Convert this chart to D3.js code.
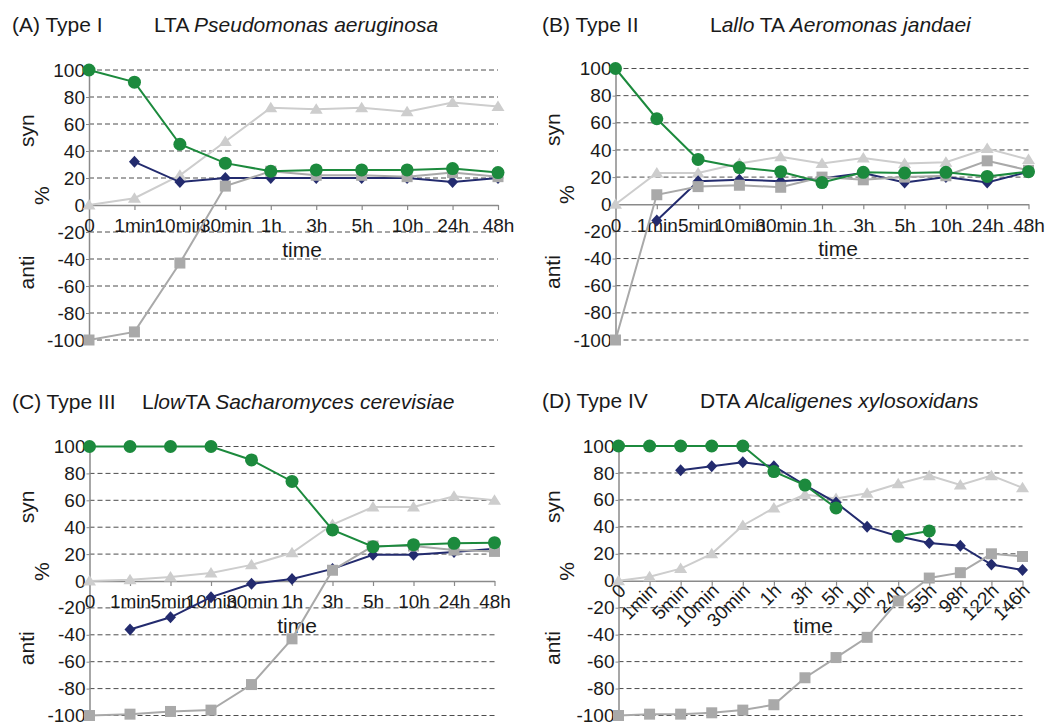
<!DOCTYPE html>
<html>
<head>
<meta charset="utf-8">
<script src="https://cdn.jsdelivr.net/npm/d3@7/dist/d3.min.js"></script>
<style>
  body { margin: 0; background: #fff; }
  text { font-family: "Liberation Sans", Arial, sans-serif; fill: #1a1a1a; }
</style>
</head>
<body>
<svg id="chart" width="1049" height="722"></svg>
<script>
// time points (category labels)
var timesA = ["0", "1min", "10min", "30min", "1h", "3h", "5h", "10h", "24h", "48h"];
var timesBC = ["0", "1min", "5min", "10min", "30min", "1h", "3h", "5h", "10h", "24h", "48h"];
var timesD = ["0", "1min", "5min", "10min", "30min", "1h", "3h", "5h", "10h", "24h", "55h", "98h", "122h", "146h"];
var yTicks = [-100, -80, -60, -40, -20, 0, 20, 40, 60, 80, 100];

// (A) Type I
var greenA = [100, 91, 45, 31, 25, 26, 26, 26, 27, 24];
var navyA = [null, 32, 17, 20, 20, 20, 20, 20, 17, 20];
var triA = [0, 5, 22, 47, 72, 71, 72, 69, 76, 73];
var sqA = [-100, -94, -43, 14, 25, 22, 22, 21, 24, 21];

// (B) Type II
var greenB = [100, 63, 33, 27, 24, 16, 23.5, 23, 23.5, 20.5, 24];
var navyB = [null, -12, 17, 18, 17, 19, 23, 16, 20, 16, 24];
var triB = [0, 23, 23, 30, 35, 30, 34, 30, 31, 41, 33];
var sqB = [-100, 7, 13, 14, 12.5, 20, 18, 20, 21, 32, 25];

// (C) Type III
var greenC = [100, 100, 100, 100, 90, 74, 38, 25.5, 27, 28, 28.5];
var navyC = [null, -36, -27, -12, -2, 1.5, 9, 19.5, 19.5, 21.5, 24];
var triC = [0, 1, 3, 6, 12, 21, 42, 55, 55, 63, 60];
var sqC = [-100, -99, -97, -96, -77, -43, 8, 26, 26, 23, 22];

// (D) Type IV
var greenD = [100, 100, 100, 100, 100, 81, 71, 54, null, 33, 37, null, null, null];
var navyD = [null, null, 82, 85, 88, 85, 71, 58, 40, 33, 28, 26, 12, 8];
var triD = [0, 3, 9, 20, 41, 54, 64, 61, 65, 72, 78, 71, 78, 69];
var sqD = [-100, -99, -99, -98, -96, -92, -72, -57, -42, -15, 2, 6, 20, 18];

var svg = d3.select("#chart");

// series styles, drawn in this order (last on top)
var styles = [
  {key: "tri", color: "#cdcdcd", shape: "M0,-6L6.5,4.5L-6.5,4.5Z"},
  {key: "navy", color: "#232b6e", shape: "M0,-6L5.5,0L0,6L-5.5,0Z"},
  {key: "sq", color: "#a9a9a9", shape: "M-5.5,-5.5H5.5V5.5H-5.5Z"},
  {key: "green", color: "#1c8a3d", shape: "circle"}
];

var panels = [
  {label: "(A) Type I", lx: 12, ly: 32, tx: 154,
   title: [["LTA ", false], ["Pseudomonas aeruginosa", true]],
   times: timesA, x0: 89, x1: 498, yTop: 70, yBot: 340, rotate: false,
   data: {green: greenA, navy: navyA, tri: triA, sq: sqA},
   synX: 27, pctX: 42, timeX: 302},
  {label: "(B) Type II", lx: 542, ly: 32, tx: 710,
   title: [["L", false], ["allo", true], [" TA ", false], ["Aeromonas jandaei", true]],
   times: timesBC, x0: 615.5, x1: 1028.5, yTop: 68.5, yBot: 340, rotate: false,
   data: {green: greenB, navy: navyB, tri: triB, sq: sqB},
   synX: 553, pctX: 567, timeX: 838},
  {label: "(C) Type III", lx: 12, ly: 409, tx: 142,
   title: [["L", false], ["low", true], ["TA ", false], ["Sacharomyces cerevisiae", true]],
   times: timesBC, x0: 89.5, x1: 494.5, yTop: 446.5, yBot: 715.5, rotate: false,
   data: {green: greenC, navy: navyC, tri: triC, sq: sqC},
   synX: 27, pctX: 42, timeX: 297},
  {label: "(D) Type IV", lx: 542, ly: 408, tx: 700,
   title: [["DTA ", false], ["Alcaligenes xylosoxidans", true]],
   times: timesD, x0: 618.5, x1: 1022.5, yTop: 446, yBot: 715.5, rotate: true,
   data: {green: greenD, navy: navyD, tri: triD, sq: sqD},
   synX: 553, pctX: 567, timeX: 813}
];

panels.forEach(function(p) {
  var x = d3.scalePoint().domain(p.times).range([p.x0, p.x1]).padding(0);
  var y = d3.scaleLinear().domain([-100, 100]).range([p.yBot, p.yTop]);
  var g = svg.append("g");

  // titles
  g.append("text").attr("x", p.lx).attr("y", p.ly)
    .style("font-size", "21px").text(p.label);
  var t = g.append("text").attr("x", p.tx).attr("y", p.ly).style("font-size", "21px");
  p.title.forEach(function(s) {
    t.append("tspan").attr("font-style", s[1] ? "italic" : "normal")
      .style("white-space", "pre").text(s[0]);
  });

  // dashed gridlines
  g.append("g").selectAll("line")
    .data(yTicks.filter(function(d) { return d != 0; }))
    .enter().append("line")
      .attr("x1", p.x0).attr("x2", p.x1)
      .attr("y1", function(d) { return y(d); })
      .attr("y2", function(d) { return y(d); })
      .attr("stroke", "#4d4d4d").attr("stroke-width", 1)
      .attr("stroke-dasharray", "5,3");

  // y axis (plain hyphen for negatives, as in the original)
  var yAxis = g.append("g")
    .attr("transform", "translate(" + p.x0 + ",0)")
    .call(d3.axisLeft(y).tickValues(yTicks).tickSize(3).tickPadding(1)
      .tickFormat(function(d) { return String(d); }));
  yAxis.select(".domain").attr("stroke", "#8a8a8a").attr("stroke-width", 1.5);
  yAxis.selectAll(".tick line").attr("stroke", "#8a8a8a");
  yAxis.selectAll("text").style("font-size", "19px").style("fill", "#1a1a1a");

  // x axis through 0
  var xAxis = g.append("g")
    .attr("transform", "translate(0," + y(0) + ")")
    .call(d3.axisBottom(x).tickSizeOuter(0).tickSizeInner(5).tickPadding(10));
  xAxis.select(".domain").attr("stroke", "#8a8a8a").attr("stroke-width", 1.5);
  xAxis.selectAll(".tick line").attr("stroke", "#8a8a8a").attr("stroke-width", 1.2);
  var xt = xAxis.selectAll("text").style("font-size", "19px").style("fill", "#1a1a1a");
  if (p.rotate) {
    xt.attr("text-anchor", "end").attr("y", 0).attr("dy", 0)
      .attr("transform", "translate(8,11) rotate(-45)");
  } else {
    xt.attr("y", 14).attr("dy", "0.71em");
  }

  // axis titles
  g.append("text").attr("x", p.timeX).attr("y", y(0) + 52)
    .attr("text-anchor", "middle").style("font-size", "21px").text("time");
  [["syn", p.synX, y(55)], ["%", p.pctX, y(7)], ["anti", p.synX, y(-50)]].forEach(function(a) {
    g.append("text")
      .attr("transform", "translate(" + a[1] + "," + a[2] + ") rotate(-90)")
      .attr("text-anchor", "middle").attr("dy", "0.35em")
      .style("font-size", "21px").text(a[0]);
  });

  // series
  styles.forEach(function(s) {
    var vals = p.data[s.key];
    var pts = p.times.map(function(c, i) { return {c: c, v: vals[i]}; });
    var line = d3.line()
      .defined(function(d) { return d.v != null; })
      .x(function(d) { return x(d.c); })
      .y(function(d) { return y(d.v); });
    g.append("path").datum(pts)
      .attr("d", line).attr("fill", "none")
      .attr("stroke", s.color).attr("stroke-width", 2);
    var m = g.append("g").selectAll("g")
      .data(pts.filter(function(d) { return d.v != null; }))
      .enter().append("g")
        .attr("transform", function(d) { return "translate(" + x(d.c) + "," + y(d.v) + ")"; });
    if (s.shape == "circle") {
      m.append("circle").attr("r", 6.5).attr("fill", s.color);
    } else {
      m.append("path").attr("d", s.shape).attr("fill", s.color);
    }
  });
});
</script>
</body>
</html>
